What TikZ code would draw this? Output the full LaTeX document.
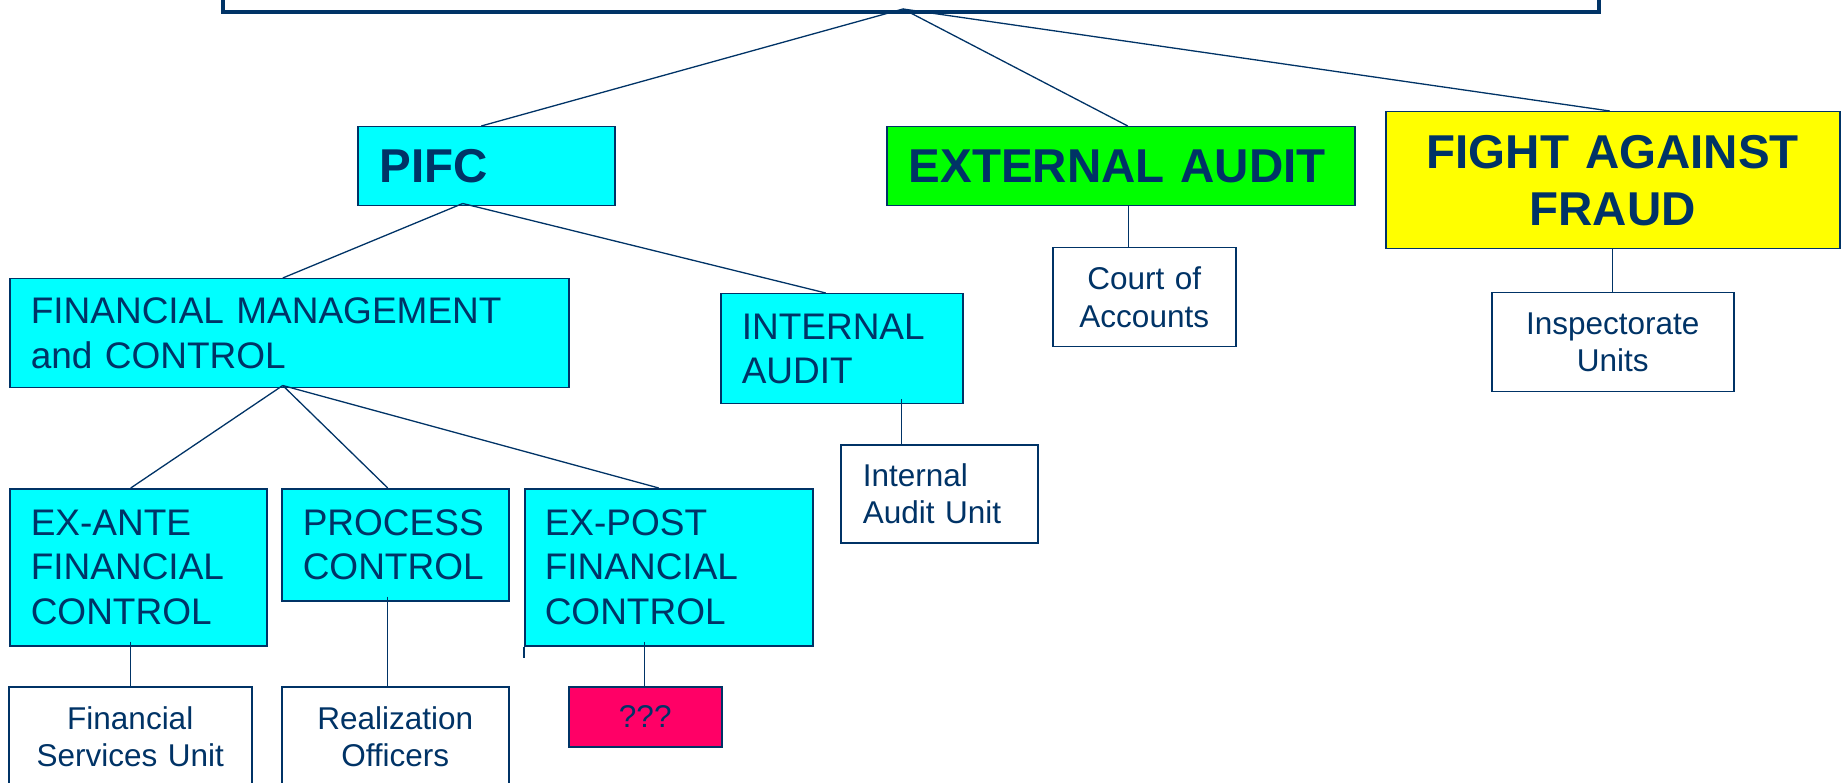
\documentclass[tikz,border=0pt]{standalone}
\usepackage{fontspec}
\setmainfont{Liberation Sans}
\usepackage{tikz}

\begin{document}
\begin{tikzpicture}[x=1pt, y=-1pt,
    box/.style     = {draw=navy, line width=1.5pt, inner ysep=0pt, anchor=north west, text=navy},
    bluebox/.style = {box, fill=aqua, align=left, font=\fontsize{37}{44.4}\selectfont},
    headbox/.style = {box, font=\bfseries\fontsize{47.5}{57}\selectfont},
    unitbox/.style = {box, fill=white, align=center, font=\fontsize{31.5}{37.5}\selectfont},
    link/.style    = {draw=navy, line width=1.3pt}]

	\definecolor{navy}{RGB}{0,51,102}
	\definecolor{aqua}{RGB}{0,255,255}
	\definecolor{lime}{RGB}{0,255,0}
	\definecolor{lemon}{RGB}{255,255,0}
	\definecolor{rose}{RGB}{255,0,102}

	\useasboundingbox (0,0) rectangle (1845,783);

	%% Draw top box (cut off)
    \node[box, line width=4pt, minimum width=1376pt, minimum height=80pt] (top) at (221,-70) {};

	%% Draw level 1
    \node[headbox, fill=aqua,  align=left,   minimum width=257pt, minimum height=79pt,  inner xsep=22pt, text width=213pt] (pifc)     at (357,126)  {PIFC};
    \node[headbox, fill=lime,  align=left,   minimum width=468pt, minimum height=79pt,  inner xsep=22pt, text width=424pt] (extaudit) at (886,126)  {EXTERNAL AUDIT};
    \node[headbox, fill=lemon, align=center, minimum width=454pt, minimum height=137pt, inner xsep=10pt, text width=434pt] (fraud)    at (1385,111) {FIGHT AGAINST\\FRAUD};

	%% Draw level 2
    \node[bluebox, minimum width=559pt, minimum height=109pt, inner xsep=21pt, text width=517pt] (fmc)      at (9,278)   {FINANCIAL MANAGEMENT\\and CONTROL};
    \node[bluebox, minimum width=242pt, minimum height=110pt, inner xsep=21pt, text width=200pt] (intaudit) at (720,293)  {INTERNAL\\AUDIT};
    \node[unitbox, minimum width=183pt, minimum height=99pt,  inner xsep=10pt, text width=163pt] (court)    at (1052,247) {Court of\\Accounts};
    \node[unitbox, minimum width=242pt, minimum height=99pt,  inner xsep=10pt, text width=222pt] (inspect)  at (1491,292) {Inspectorate\\Units};
    \node[unitbox, align=left, minimum width=197pt, minimum height=98pt, inner xsep=22pt, text width=153pt] (iau) at (840,444) {Internal\\Audit Unit};

	%% Draw level 3
    \node[bluebox, minimum width=257pt, minimum height=157pt, inner xsep=21pt, text width=215pt] (exante)  at (9,488)   {EX-ANTE\\FINANCIAL\\CONTROL};
    \node[bluebox, minimum width=227pt, minimum height=112pt, inner xsep=21pt, text width=185pt] (process) at (281,488) {PROCESS\\CONTROL};
    \node[bluebox, minimum width=288pt, minimum height=157pt, inner xsep=20pt, text width=248pt] (expost)  at (524,488) {EX-POST\\FINANCIAL\\CONTROL};

	%% Draw level 4
    \node[unitbox, minimum width=243pt, minimum height=100pt, inner xsep=10pt, text width=223pt] (fsu)    at (8,686)   {Financial\\Services Unit};
    \node[unitbox, minimum width=227pt, minimum height=100pt, inner xsep=10pt, text width=207pt] (realiz) at (281,686) {Realization\\Officers};
    \node[unitbox, fill=rose, minimum width=153pt, minimum height=60pt, inner xsep=10pt, text width=133pt] (qqq) at (568,686) {???};

	%% Draw links
    \draw[link] ([xshift=-8pt,yshift=5pt]top.south) -- ([xshift=-5pt]pifc.north);
    \draw[link] ([xshift=-8pt,yshift=5pt]top.south) -- ([xshift=7pt]extaudit.north);
    \draw[link] ([xshift=-8pt,yshift=5pt]top.south) -- ([xshift=-3pt]fraud.north);

    \draw[link] ([xshift=-23.5pt,yshift=3pt]pifc.south) -- ([xshift=-6.5pt]fmc.north);
    \draw[link] ([xshift=-23.5pt,yshift=3pt]pifc.south) -- ([xshift=-16pt]intaudit.north);
    \draw[link] ([xshift=8pt]extaudit.south) -- ([xshift=-15.5pt]court.north);
    \draw[link] (fraud.south) -- (inspect.north);

    \draw[link] ([xshift=-6.5pt,yshift=3pt]fmc.south) -- ([xshift=-7.5pt]exante.north);
    \draw[link] ([xshift=-6.5pt,yshift=3pt]fmc.south) -- ([xshift=-7.5pt]process.north);
    \draw[link] ([xshift=-6.5pt,yshift=3pt]fmc.south) -- ([xshift=-10pt]expost.north);
    \draw[link] ([xshift=60pt,yshift=5pt]intaudit.south) -- ([xshift=-37.5pt]iau.north);

    \draw[link] ([xshift=-7.5pt,yshift=5pt]exante.south) -- ([xshift=0.5pt]fsu.north);
    \draw[link] ([xshift=-7.5pt,yshift=5pt]process.south) -- ([xshift=-7.5pt]realiz.north);
    \draw[link] ([xshift=-24pt,yshift=5pt]expost.south) -- ([xshift=-0.5pt]qqq.north);

    \draw[navy, line width=1.5pt] (expost.south west) -- ++(0,11);
\end{tikzpicture}
\end{document}
